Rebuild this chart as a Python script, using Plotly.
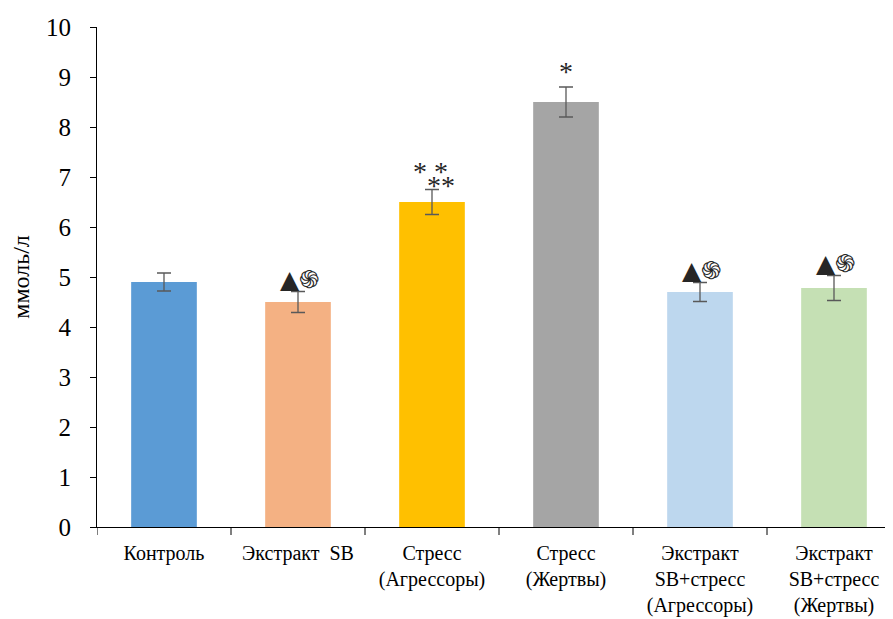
import plotly.graph_objects as go

categories = ["Контроль", "Экстракт  SB", "Стресс<br>(Агрессоры)", "Стресс<br>(Жертвы)",
              "Экстракт<br>SB+стресс<br>(Агрессоры)", "Экстракт<br>SB+стресс<br>(Жертвы)"]
values = [4.9, 4.5, 6.5, 8.5, 4.7, 4.78]
errors = [0.18, 0.21, 0.25, 0.3, 0.19, 0.25]
colors = ["#5B9BD5", "#F4B183", "#FFC000", "#A5A5A5", "#BDD7EE", "#C5E0B4"]
marks = ["", "▲֍", "* *", "*", "▲֍", "▲֍"]
y_ticks = list(range(0, 11))

idx = list(range(len(categories)))

fig = go.Figure()
fig.add_trace(go.Bar(
    x=idx, y=values, width=0.49,
    marker=dict(color=colors, line=dict(width=0)),
    error_y=dict(type="data", array=errors, visible=True, color="#595959",
                 thickness=1.3, width=7),
    showlegend=False,
))

font_serif = "Liberation Serif"
mark_color = "#262626"
for i, m in enumerate(marks):
    if not m:
        continue
    top = values[i] + errors[i]
    if m.startswith("▲"):
        fig.add_annotation(x=i, y=top, xref="x", yref="y", text=m, showarrow=False,
                           yanchor="bottom", yshift=-4, xshift=1,
                           font=dict(family="DejaVu Sans", size=25, color=mark_color))
    elif m == "* *":
        fig.add_annotation(x=i, y=top, xref="x", yref="y", text="* *", showarrow=False,
                           yanchor="bottom", yshift=1, xshift=-2,
                           font=dict(family=font_serif, size=28, color=mark_color))
        fig.add_annotation(x=i, y=top, xref="x", yref="y", text="**", showarrow=False,
                           yanchor="bottom", yshift=-13, xshift=9,
                           font=dict(family=font_serif, size=28, color=mark_color))
    else:
        fig.add_annotation(x=i, y=top, xref="x", yref="y", text=m, showarrow=False,
                           yanchor="bottom", yshift=-2,
                           font=dict(family=font_serif, size=28, color=mark_color))

fig.update_layout(
    width=893, height=619,
    margin=dict(l=89, r=0, t=19, b=100),
    plot_bgcolor="white", paper_bgcolor="white",
    font=dict(family=font_serif, color="#000000"),
)
fig.update_xaxes(
    type="linear", automargin=False,
    tickmode="array", tickvals=idx, ticktext=categories,
    range=[-0.5, 5.5],
    showline=True, linecolor="#000000", linewidth=1,
    ticks="", showgrid=False, zeroline=False,
    ticklabelstandoff=8,
    tickfont=dict(size=20, family=font_serif),
)
fig.update_layout(shapes=[
    dict(type="line", xref="x", yref="paper", x0=b - 0.5, x1=b - 0.5, y0=0, y1=-0.016,
         line=dict(color="#000000", width=1))
    for b in range(0, 7)
])
fig.update_yaxes(
    automargin=False,
    range=[0, 10], tickmode="array", tickvals=y_ticks,
    showline=True, linecolor="#000000", linewidth=1,
    ticks="outside", ticklen=6, tickcolor="#000000",
    ticklabelstandoff=14,
    showgrid=False, zeroline=False,
    tickfont=dict(size=25, family=font_serif),
    title=dict(text="ммоль/л", font=dict(size=24, family=font_serif), standoff=12),
)
fig.write_html("out.html")
